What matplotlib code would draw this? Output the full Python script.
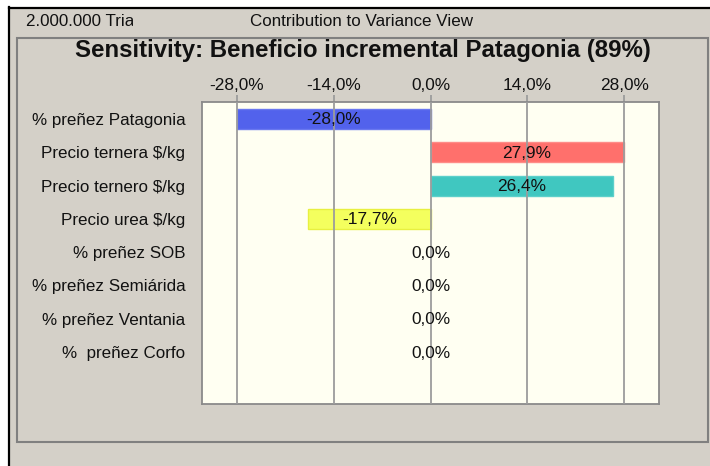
import matplotlib
matplotlib.use("Agg")
import matplotlib.pyplot as plt
from matplotlib.patches import Rectangle
from matplotlib.lines import Line2D

categories = ["% preñez Patagonia", "Precio ternera $/kg", "Precio ternero $/kg",
              "Precio urea $/kg", "% preñez SOB", "% preñez Semiárida",
              "% preñez Ventania", "%  preñez Corfo"]
values = [-28.0, 27.9, 26.4, -17.7, 0.0, 0.0, 0.0, 0.0]
colors = ["#5262EC", "#FF706C", "#40C7C0", "#F4FF5E", "#FFFFFF", "#FFFFFF", "#FFFFFF", "#FFFFFF"]
edges = ["#6A78F0", "#FF8C88", "#5CD0CA", "#E8F040", "#FFFFFF", "#FFFFFF", "#FFFFFF", "#FFFFFF"]
ticks = [-28, -14, 0, 14, 28]
tick_labels = ["-28,0%", "-14,0%", "0,0%", "14,0%", "28,0%"]
title = "Sensitivity: Beneficio incremental Patagonia (89%)"
header_left = "2.000.000 Trials"
header_mid = "Contribution to Variance View"

W, H = 710, 466
BG = "#D4D0C8"
FONT = "Liberation Sans"
fig = plt.figure(figsize=(W / 100, H / 100), dpi=100, facecolor=BG)
renderer = fig.canvas.get_renderer()


def px(x, y):
    return x / W, 1 - y / H


def size_for(text, target, weight="normal", family=FONT):
    t = fig.text(0, 0, text, fontsize=10, fontweight=weight, family=family)
    w = t.get_window_extent(renderer).width
    t.remove()
    return 10 * target / w


# white outer margin and black frame
fig.patches.append(Rectangle((0, 0), 8 / W, 1, transform=fig.transFigure, color="white", zorder=0))
fig.patches.append(Rectangle((0, 1 - 7 / H), 1, 7 / H, transform=fig.transFigure, color="white", zorder=0))
fig.lines.append(Line2D([8.5 / W, 8.5 / W], [0, 1 - 7 / H], transform=fig.transFigure, color="black", lw=1.6))
fig.lines.append(Line2D([8.5 / W, 1], [1 - 7.5 / H, 1 - 7.5 / H], transform=fig.transFigure, color="black", lw=1.6))

# inner panel border
x0, y0 = px(17, 442)
x1, y1 = px(708, 38)
fig.patches.append(Rectangle((x0, y0), x1 - x0, y1 - y0, transform=fig.transFigure,
                             fill=False, edgecolor="#808080", lw=1.5, zorder=1))

# header texts
hs = size_for(header_mid, 224)
fig.text(*px(250, 21), header_mid, fontsize=hs, family=FONT, va="center", ha="left", color="#111111")
ht = fig.text(*px(26, 21), header_left, fontsize=hs, family=FONT, va="center", ha="left", color="#111111")
clip = Rectangle((0, 0), 133 / W, 1, transform=fig.transFigure, visible=False)
fig.patches.append(clip)
ht.set_clip_path(clip)

# title
ts = size_for(title, 577, weight="bold")
fig.text(*px(363, 51), title, fontsize=ts, fontweight="bold", family=FONT,
         ha="center", va="center", color="#111111")

# axes
ax_l, ax_b = px(202, 404)
ax_r, ax_t = px(659, 102)
ax = fig.add_axes([ax_l, ax_b, ax_r - ax_l, ax_t - ax_b])
ax.set_facecolor("#FFFFF2")
ax.set_xlim(-33, 33)
ax.set_ylim(8.56, -0.51)

ypos = list(range(len(categories)))
for y, v, c, e in zip(ypos, values, colors, edges):
    if v != 0:
        ax.barh(y, v, height=0.6, color=c, edgecolor=e, lw=1.0, zorder=2)

for t in ticks:
    ax.axvline(t, color="#9C9C9C", lw=1.3, zorder=3)

ls = size_for("-28,0%", 55)
for y, v in zip(ypos, values):
    lab = f"{v:.1f}".replace(".", ",") + "%"
    ax.text(v / 2, y + 0.03, lab, ha="center", va="center", fontsize=ls, family=FONT,
            color="#111111", zorder=4)

ax.xaxis.tick_top()
ax.set_xticks(ticks)
ax.set_xticklabels(tick_labels, family=FONT, fontsize=ls, color="#111111")
ax.tick_params(axis="x", length=5, width=1.3, color="#9C9C9C", pad=1.5)

cs = size_for("% preñez Patagonia", 154)
ax.set_yticks(ypos)
ax.set_yticklabels(categories, family=FONT, fontsize=cs, color="#111111")
ax.tick_params(axis="y", length=0, pad=12)

for s in ax.spines.values():
    s.set_color("#8A8A8A")
    s.set_linewidth(1.3)

fig.savefig("out.png", dpi=100, facecolor=BG)
